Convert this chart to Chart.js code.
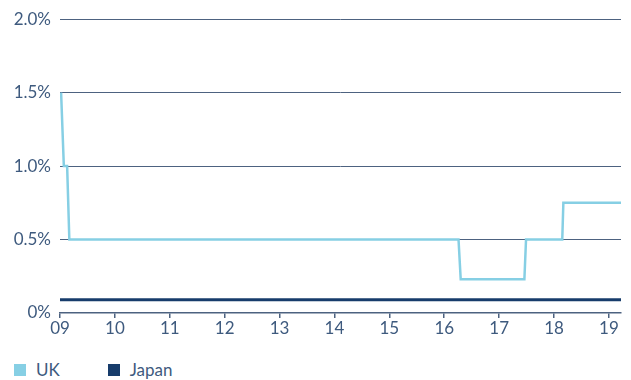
<!DOCTYPE html>
<html>
<head>
<meta charset="utf-8">
<script src="https://cdn.jsdelivr.net/npm/chart.js@4.4.1/dist/chart.umd.min.js"></script>
<style>
  body { margin: 0; background: #fff; font-family: Lato, sans-serif; }
  #wrap { position: relative; width: 631px; height: 340px; }
  #legend { display: flex; margin: 20px 0 0 14px; font-size: 17px; color: #3e5a7e; line-height: 20px; }
  #legend .item { display: flex; align-items: center; margin-right: 48px; }
  #legend .box { width: 12px; height: 12px; margin-right: 10px; }
</style>
</head>
<body>
<div id="wrap"><canvas id="RateChart"></canvas></div>
<div id="legend"></div>
<script>
// policy rates, x in years since 2000
var ukYears  = [9.02, 9.07, 9.13, 9.17, 16.26, 16.30, 17.46, 17.49, 18.15, 18.17, 19.22];
var ukRates  = [1.5,  1.0,  1.0,  0.5,  0.5,   0.23,  0.23,  0.5,   0.5,   0.75,  0.75];
var jpYears  = [9.0, 19.22];
var jpRates  = [0.09, 0.09];
var yTicks   = [0, 0.5, 1.0, 1.5, 2.0];
var xTicks   = [9, 10, 11, 12, 13, 14, 15, 16, 17, 18, 19];

var textColor = '#3e5a7e';
var gridColor = '#4d6280';

function points(xs, ys){
    return xs.map(function(x, i){ return {x: x, y: ys[i]}; });
}

const data = {
    datasets: [
        {label: 'UK', data: points(ukYears, ukRates), borderColor: '#86cfe4', backgroundColor: '#86cfe4', borderWidth: 2.5, pointRadius: 0},
        {label: 'Japan', data: points(jpYears, jpRates), borderColor: '#173c6b', backgroundColor: '#173c6b', borderWidth: 3, pointRadius: 0}
    ]
};

const config = {
    type: 'line',
    data: data,
    options: {
        responsive: true,
        maintainAspectRatio: false,
        animation: false,
        layout: {padding: {top: 14, right: 10, left: 0, bottom: 0}},
        plugins: {legend: {display: false}, tooltip: {enabled: false}},
        scales: {
            x: {
                type: 'linear',
                min: 9, max: 19.22,
                afterBuildTicks: function(axis){ axis.ticks = xTicks.map(function(v){ return {value: v}; }); },
                afterFit: function(axis){ axis.height = 27; },
                border: {display: true, color: gridColor, width: 1.5},
                grid: {drawOnChartArea: false, drawTicks: true, tickLength: 5, color: gridColor, lineWidth: 1.5},
                ticks: {
                    padding: 0, maxRotation: 0, autoSkip: false,
                    color: textColor, font: {family: 'Lato', size: 17},
                    callback: function(v){ return String(v).padStart(2, '0'); }
                }
            },
            y: {
                min: 0, max: 2.0,
                afterBuildTicks: function(axis){ axis.ticks = yTicks.map(function(v){ return {value: v}; }); },
                afterFit: function(axis){ axis.width = 60; },
                border: {display: false},
                grid: {drawTicks: false, color: function(ctx){ return ctx.tick.value === 0 ? 'rgba(0,0,0,0)' : gridColor; }, lineWidth: 1},
                ticks: {
                    padding: 9, color: textColor, font: {family: 'Lato', size: 17},
                    callback: function(v){ return v === 0 ? '0%' : v.toFixed(1) + '%'; }
                }
            }
        }
    }
};

const myChart = new Chart(document.getElementById('RateChart'), config);

// legend drawn from the datasets
var legend = document.getElementById('legend');
data.datasets.forEach(function(ds){
    var item = document.createElement('div');
    item.className = 'item';
    item.innerHTML = '<span class="box" style="background:' + ds.backgroundColor + '"></span>' + ds.label;
    legend.appendChild(item);
});
</script>
</body>
</html>
